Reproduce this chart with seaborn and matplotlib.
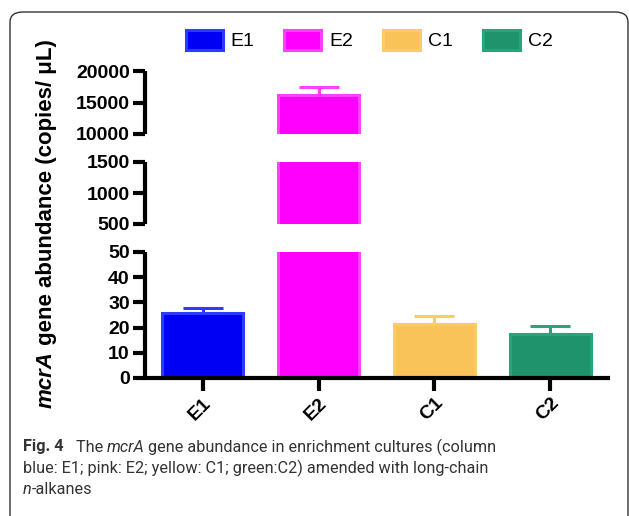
import numpy as np
import pandas as pd
import matplotlib
matplotlib.use("Agg")
import matplotlib.pyplot as plt
import seaborn as sns
from matplotlib.patches import Patch, FancyBboxPatch
from matplotlib.ticker import FixedLocator

# ---- data ----
categories = ["E1", "E2", "C1", "C2"]
values = [25.9, 16250, 21.4, 17.5]
errors = [1.7, 1200, 3.2, 3.1]
fill_colors = ["#0000F5", "#FF00FF", "#FAC35A", "#1F936B"]
edge_colors = ["#2A3CFF", "#FF40FF", "#FCCB66", "#22A67C"]
seg_limits = [(10000, 20000), (500, 1500), (0, 50)]
seg_ticks = [[10000, 15000, 20000], [500, 1000, 1500], [0, 10, 20, 30, 40, 50]]
seg_tick_labels = [["10000", "15000", "20000"], ["500", "1000", "1500"],
                   ["0", "10", "20", "30", "40", "50"]]
caption_lines = [
    [("Fig. 4", "bold", "normal"), ("   The ", "normal", "normal"), ("mcrA", "normal", "italic"),
     (" gene abundance in enrichment cultures (column", "normal", "normal")],
    [("blue: E1; pink: E2; yellow: C1; green:C2) amended with long-chain", "normal", "normal")],
    [("n", "normal", "italic"), ("-alkanes", "normal", "normal")],
]

df = pd.DataFrame({"cat": categories, "val": values})

sns.set_style("white")
plt.rcParams["font.family"] = ["Liberation Sans", "DejaVu Sans"]
plt.rcParams["axes.edgecolor"] = "black"
plt.rcParams["xtick.color"] = "black"
plt.rcParams["ytick.color"] = "black"
plt.rcParams["text.color"] = "black"

W, H = 629, 516
fig = plt.figure(figsize=(W / 100, H / 100), dpi=100)

def px_axes(x0, y0, x1, y1):
    return fig.add_axes([x0 / W, 1 - y1 / H, (x1 - x0) / W, (y1 - y0) / H])

ax_left, ax_right = 145, 608
seg_px = [(71, 134), (162, 224), (252, 378)]
axes = [px_axes(ax_left, a, ax_right, b) for a, b in seg_px]

LW = 3.0
for i, ax in enumerate(axes):
    sns.barplot(data=df, x="cat", y="val", hue="cat", palette=fill_colors,
                order=categories, hue_order=categories, width=0.7, saturation=1,
                legend=False, ax=ax, errorbar=None, linewidth=2.2)
    for p, ec in zip(ax.patches, edge_colors):
        p.set_edgecolor(ec)
    for xi, (v, e, c) in enumerate(zip(values, errors, edge_colors)):
        ax.errorbar([xi], [v], yerr=[[0], [e]], fmt="none", ecolor=c,
                    elinewidth=2.2, capsize=14.5, capthick=2.2, zorder=1)
    ax.set_xlim(-0.5, 3.5)
    ax.set_ylim(*seg_limits[i])
    ax.set_xlabel("")
    ax.set_ylabel("")
    ax.patch.set_alpha(0)
    for s in ["top", "right"]:
        ax.spines[s].set_visible(False)
    ax.spines["left"].set_linewidth(LW)
    ax.spines["left"].set_capstyle("butt")
    ax.yaxis.set_major_locator(FixedLocator(seg_ticks[i]))
    ax.set_yticklabels(seg_tick_labels[i], fontsize=14, fontweight="bold")
    ax.tick_params(axis="y", direction="out", length=9, width=LW, pad=2, left=True)
    ends = [seg_limits[i][0]] if i == 0 else ([seg_limits[i][1]] if i == 2 else list(seg_limits[i]))
    ax.yaxis.set_minor_locator(FixedLocator(ends))
    ax.tick_params(axis="y", which="minor", direction="in", length=7, width=LW, left=True)
    if i < 2:
        ax.spines["bottom"].set_visible(False)
        ax.tick_params(axis="x", bottom=False, labelbottom=False)
    else:
        ax.spines["bottom"].set_linewidth(LW)
        ax.tick_params(axis="x", direction="out", length=9, width=LW, bottom=True, pad=3)
        ax.set_xticks(range(len(categories)))
        ax.set_xticklabels(categories, fontsize=14, fontweight="bold",
                           rotation=45, ha="right", rotation_mode="anchor")

# legend
handles = [Patch(facecolor=f, edgecolor=e, linewidth=2.2, label=c)
           for c, f, e in zip(categories, fill_colors, edge_colors)]
fig.legend(handles=handles, loc="center", bbox_to_anchor=(369 / W, 1 - 40 / H),
           ncol=4, frameon=False, fontsize=14, handlelength=1.9, handleheight=1.2,
           handletextpad=0.4, columnspacing=1.55)

fig.canvas.draw()
renderer = fig.canvas.get_renderer()

def rich(x, y, pieces, rotation=0, **kw):
    for txt, weight, style in pieces:
        t = fig.text(x, y, txt, fontweight=weight, fontstyle=style, rotation=rotation,
                     transform=None, **kw)
        bb = t.get_window_extent(renderer)
        if rotation == 0:
            x += bb.width
        else:
            y += bb.height

# y label (pixel coords, origin bottom-left)
rich(57, H - 408, [("mcrA", "bold", "italic"), (" gene abundance (copies/ μL)", "bold", "normal")],
     rotation=90, fontsize=16, va="bottom", ha="left", rotation_mode="anchor", color="black")

# caption
cap_y = [447, 468, 490]
for line, yy in zip(caption_lines, cap_y):
    rich(23, H - yy, line, fontsize=11.7, va="center", ha="left", color="#333333",
         family=["Roboto", "DejaVu Sans"])

# frame
frame = FancyBboxPatch((10 / W, -0.1), (618 / W), 1 - 12 / H + 0.1,
                       boxstyle="round,pad=0,rounding_size=0.02",
                       transform=fig.transFigure, fill=False, edgecolor="#333333",
                       linewidth=1.0)
fig.add_artist(frame)

fig.savefig("out.png", dpi=100)
